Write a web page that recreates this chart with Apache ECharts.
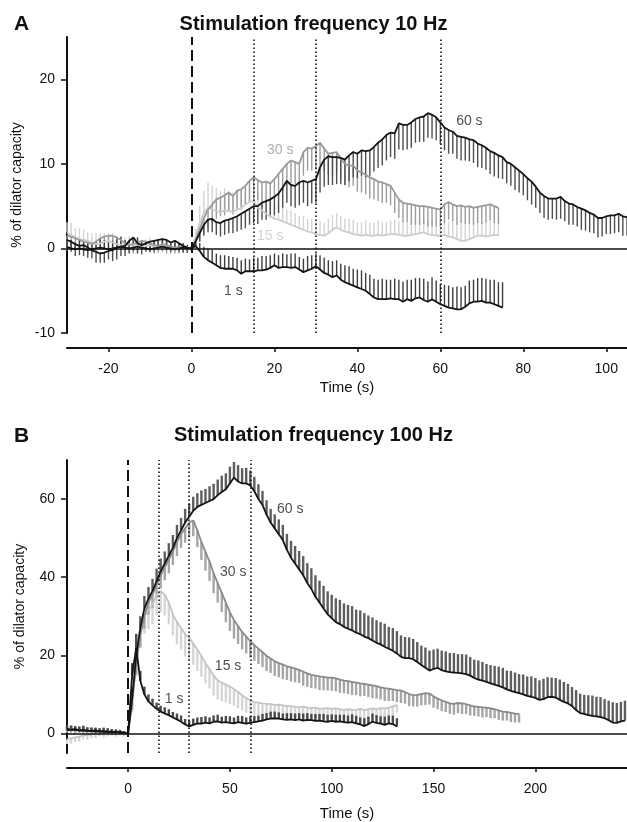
<!DOCTYPE html>
<html>
<head>
<meta charset="utf-8">
<script src="https://cdn.jsdelivr.net/npm/echarts@6/dist/echarts.min.js"></script>
<style>html,body{margin:0;padding:0;background:#fff}#c{width:627px;height:822px}</style>
</head>
<body>
<div id="c"></div>
<script>
// ---------- Panel A (10 Hz), sampled every 1 s from t = -30 ----------
var A_T0 = -30, A_STEP = 1;
var A60 = [1.0,0.8,0.5,0.3,0.4,0.1,-0.2,-0.4,-0.6,-0.5,-0.3,-0.2,0.1,0.2,0.3,0.9,1.3,0.6,0.4,0.6,0.8,0.9,1.0,1.1,1.0,0.7,0.9,0.6,0.3,0.1,
  0,
  0.8,1.8,2.8,3.4,3.5,3.1,3.0,3.3,3.4,3.6,
  3.8,4.1,4.4,4.7,5.0,5.0,5.4,5.6,5.8,6.1,
  6.5,7.2,8.0,7.5,7.4,7.8,8.0,7.8,8.0,8.2,
  9.6,10.5,10.9,10.8,10.8,10.7,10.5,11.0,11.4,11.2,
  11.6,11.5,11.6,12.0,12.5,12.9,13.4,13.7,13.6,14.8,
  14.6,14.6,14.9,15.3,15.5,15.6,16.0,15.8,15.5,14.9,
  14.3,14.0,13.8,13.3,13.2,13.1,12.9,12.8,12.4,12.2,
  11.9,11.5,11.3,11.0,10.8,10.2,10.0,9.6,9.2,8.8,
  8.3,7.9,7.3,6.6,6.2,5.9,5.9,5.9,6.1,5.6,
  5.3,5.2,4.9,4.7,4.5,4.2,4.0,3.6,3.6,3.8,
  3.9,3.9,4.1,3.8,3.7];
var A60_SEM = [1.3,1.2,1.4,1.1,1.3,1.2,1.0,1.3,1.1,1.2,1.0,1.3,1.4,1.1,1.2,1.5,1.6,1.2,1.1,1.0,1.2,1.3,1.1,1.0,1.2,1.1,0.9,1.0,0.8,0.6,0.3,
  0.6,1.0,1.3,1.5,1.6,1.5,1.6,1.7,1.6,1.8,
  1.8,1.9,2.0,1.9,2.0,2.1,2.0,2.2,2.1,2.2,
  2.3,2.4,2.6,2.5,2.6,2.7,2.6,2.8,2.7,2.8,
  3.0,3.2,3.4,3.3,3.2,3.1,3.0,3.1,3.0,2.9,
  3.0,3.1,3.0,2.9,3.0,3.1,3.0,2.9,3.0,3.1,
  3.0,2.9,3.0,2.8,2.9,3.0,2.9,2.8,2.7,2.6,
  2.7,2.8,2.6,2.7,2.8,2.7,2.6,2.7,2.8,2.7,
  2.6,2.7,2.8,2.7,2.6,2.5,2.6,2.7,2.6,2.5,
  2.6,2.7,2.5,2.4,2.6,2.5,2.4,2.5,2.6,2.4,
  2.5,2.4,2.3,2.5,2.4,2.3,2.2,2.3,2.2,2.1,
  2.2,2.1,2.2,2.3,2.2];
var A30 = [1.5,1.4,1.2,1.0,0.8,0.7,0.5,0.8,1.2,1.4,1.5,1.5,1.3,1.0,0.6,0.4,0.5,0.7,0.9,0.8,0.6,0.4,0.3,0.5,0.4,0.2,0.1,0.2,0.1,0.0,
  0,
  1.0,2.3,3.6,4.6,5.2,5.8,6.0,6.3,6.6,6.2,
  6.8,7.0,7.4,8.0,8.4,8.1,7.8,7.9,7.7,8.2,
  8.8,9.4,10.0,10.4,10.2,10.0,11.4,11.9,11.8,12.1,
  12.5,11.8,11.2,11.3,11.4,10.6,10.0,9.8,9.8,9.2,
  9.0,8.7,8.4,8.2,7.9,7.8,7.6,7.4,6.6,5.8,
  5.4,5.3,5.2,5.1,5.0,5.0,4.9,4.8,4.7,4.6,
  5.2,5.5,5.2,5.0,5.1,4.9,5.0,4.8,4.9,5.0,
  5.1,5.2,5.0,4.8];
var A30_SEM = [1.4,1.3,1.5,1.2,1.1,1.3,1.0,1.2,1.4,1.3,1.5,1.4,1.2,1.1,1.0,0.9,1.1,1.2,1.0,0.9,1.1,1.0,0.8,0.9,1.0,0.8,0.7,0.8,0.6,0.5,0.3,
  0.8,1.4,1.8,2.0,2.2,2.3,2.2,2.4,2.3,2.2,
  2.3,2.4,2.2,2.5,2.6,2.4,2.3,2.5,2.4,2.3,
  2.5,2.6,2.4,2.7,2.6,2.5,2.8,2.7,2.6,2.8,
  2.7,2.6,2.5,2.7,2.6,2.4,2.5,2.6,2.4,2.5,
  2.4,2.3,2.5,2.4,2.3,2.4,2.2,2.3,2.4,2.2,
  2.3,2.2,2.4,2.3,2.2,2.1,2.3,2.2,2.1,2.0,
  2.2,2.1,2.0,2.2,2.1,2.0,2.1,2.0,1.9,2.1,
  2.0,1.9,2.0,1.9];
var A15 = [1.9,1.6,1.3,1.1,1.0,0.9,0.7,0.5,0.6,0.8,0.9,0.7,0.5,0.4,0.4,0.5,0.3,0.4,0.2,0.3,0.4,0.2,0.1,0.3,0.2,0.1,0.0,0.1,0.2,0.1,
  0,
  1.3,3.0,4.2,4.8,4.6,4.4,4.3,4.5,4.4,4.3,
  4.6,4.8,5.2,5.5,5.6,4.8,4.5,4.1,3.8,3.5,
  3.4,3.2,3.0,2.8,2.6,2.4,2.2,2.0,1.9,1.7,
  1.6,1.5,1.8,2.2,2.5,2.2,2.0,1.9,1.7,1.6,
  1.5,1.6,1.5,1.5,1.6,1.5,1.6,1.7,1.7,1.6,
  1.5,1.5,1.6,1.7,1.8,1.9,1.7,1.6,1.5,1.5,
  1.6,1.4,1.3,1.1,0.9,0.9,1.1,1.3,1.5,1.5,
  1.4,1.5,1.6,1.5];
var A15_SEM = [1.2,1.4,1.1,1.3,1.2,1.0,1.1,1.3,1.2,1.0,0.9,1.1,1.0,0.8,0.9,1.0,0.8,0.9,0.7,0.8,0.9,0.7,0.6,0.8,0.7,0.6,0.5,0.6,0.5,0.4,0.3,
  1.0,2.0,2.6,3.0,2.8,2.7,2.5,2.6,2.4,2.3,
  2.4,2.2,2.3,2.1,2.0,1.9,2.0,1.8,1.9,1.8,
  1.7,1.8,1.6,1.7,1.6,1.5,1.6,1.5,1.6,1.5,
  1.6,1.5,1.7,1.8,1.7,1.6,1.5,1.6,1.7,1.5,
  1.6,1.7,1.5,1.6,1.7,1.6,1.5,1.6,1.7,1.6,
  1.7,1.6,1.5,1.7,1.8,1.7,1.6,1.7,1.8,1.6,
  1.7,1.8,1.9,2.0,2.1,2.0,1.9,1.8,1.7,1.8,
  1.9,1.8,1.7,1.8];
var A1 = [0.2,0.0,-0.1,0.0,-0.1,-0.2,-0.1,0.0,0.1,0.0,-0.1,0.0,0.1,0.2,0.1,0.0,0.1,0.2,0.1,0.0,-0.1,0.0,0.1,0.2,0.1,0.0,-0.1,0.0,0.1,0.0,
  0,
  0.3,-0.3,-1.0,-1.4,-1.7,-2.0,-2.3,-2.4,-2.4,-2.4,
  -2.6,-3.0,-2.7,-2.7,-2.7,-2.6,-2.6,-2.5,-2.3,-2.0,
  -2.3,-2.2,-2.2,-2.3,-2.2,-2.5,-2.8,-2.6,-2.4,-2.1,
  -2.5,-2.9,-3.1,-3.4,-3.2,-3.7,-4.0,-4.2,-4.4,-4.6,
  -4.8,-5.0,-5.4,-5.8,-6.0,-6.0,-6.0,-5.9,-6.0,-6.0,
  -6.3,-6.0,-6.2,-5.9,-5.8,-6.1,-6.3,-6.0,-6.3,-6.6,
  -6.8,-7.0,-7.1,-7.2,-7.2,-6.9,-6.5,-6.3,-6.3,-6.2,
  -6.4,-6.4,-6.6,-6.8,-7.0];
var A1_SEM = [0.9,1.0,0.8,1.1,0.9,1.0,0.8,0.9,1.1,1.0,0.8,0.9,1.0,1.2,0.9,0.8,1.0,1.1,0.9,0.8,0.7,0.9,1.0,0.8,0.7,0.6,0.8,0.6,0.5,0.4,0.3,
  0.5,0.9,1.2,1.4,1.5,1.4,1.5,1.6,1.5,1.4,
  1.5,1.6,1.5,1.4,1.6,1.5,1.7,1.6,1.5,1.4,
  1.5,1.6,1.5,1.7,1.6,1.5,1.6,1.7,1.6,1.5,
  1.7,1.8,1.7,1.9,1.8,1.9,2.0,2.1,2.0,2.1,
  2.2,2.1,2.3,2.2,2.3,2.4,2.3,2.2,2.4,2.3,
  2.4,2.3,2.5,2.4,2.3,2.5,2.4,2.6,2.5,2.4,
  2.5,2.6,2.5,2.7,2.6,2.5,2.7,2.6,2.8,2.7,
  2.8,2.7,2.9,2.8,3.0];

// ---------- Panel B (100 Hz), sampled every 2 s from t = -30 ----------
var B_T0 = -30, B_STEP = 2;
var B60 = [0.8,1.0,0.9,0.7,0.8,0.6,0.7,0.5,0.6,0.4,0.5,0.3,0.4,0.2,0.1,
  0,
  9,20,27,32,34.5,36.5,39,41.5,43.5,45.5,
  47.5,50,52,54,55.5,57,58,58.5,59,59.5,
  60,61,61.8,62.5,64,65.5,64.5,64,64,63.5,
  62,60,58.5,56,54,52.5,51,49.5,47,45,
  43.5,42,40.5,38.5,37,35,33.5,32,30.5,29.5,
  28.5,28,27.3,26.8,26.4,25.8,25.4,24.8,24.4,23.8,
  23.2,22.8,22.2,21.7,21.2,20.5,19.6,19.3,19.3,19,
  18.3,17.5,16.8,16.1,16.5,16.8,16.2,15.9,15.7,15.6,
  15.5,15.4,15.2,14.8,14.2,13.8,13.5,13.2,12.8,12.5,
  12.2,11.8,11.3,10.9,10.6,10.3,10,9.6,9.4,9.1,
  8.6,8.8,9.3,9.4,9.2,8.6,8.1,7.7,7.0,6.0,
  5.2,5.0,4.7,4.5,4.4,4.2,3.9,3.4,2.8,2.7,
  3.1,3.3];
var B60_SEM = [0.9,1.0,0.8,1.1,0.9,1.0,0.8,0.9,0.7,0.8,0.9,0.7,0.6,0.5,0.4,0.2,
  2.0,2.8,3.0,3.2,3.0,3.1,3.2,3.3,3.1,3.2,
  3.3,3.4,3.2,3.5,3.4,3.6,3.5,3.7,3.6,3.8,
  3.9,4.0,4.2,4.1,4.3,4.0,4.2,3.9,4.0,3.8,
  3.7,3.8,3.6,3.7,3.5,3.6,3.8,3.9,4.1,4.3,
  4.5,4.7,4.9,5.1,5.3,5.5,5.6,5.8,5.9,6.0,
  6.1,6.2,6.0,6.1,6.2,5.9,6.1,6.0,5.8,5.9,
  5.8,5.7,5.9,5.6,5.8,5.7,5.5,5.4,5.3,5.2,
  5.1,5.0,5.2,5.1,5.0,4.9,5.0,5.1,4.9,5.0,
  4.8,4.9,5.0,4.8,4.7,4.9,4.8,4.6,4.7,4.8,
  4.9,5.0,4.8,5.1,5.0,4.9,5.1,5.0,5.2,5.1,
  5.0,5.2,5.1,4.9,5.0,5.2,5.1,5.0,4.9,5.1,
  5.0,4.9,5.1,5.2,5.0,5.1,4.9,5.0,5.2,5.1,
  5.0,5.1];
var B30 = [1.0,1.2,0.8,0.9,0.6,0.7,0.5,0.6,0.4,0.5,0.3,0.4,0.2,0.3,0.1,
  0,
  8,18,25,30,33.5,35.5,38,40.5,42.5,44.5,
  46.5,49,51,52.5,54,54.5,52,49,46.5,44,
  41,38.5,36,33.5,31,29,27.5,26,24.8,23.6,
  22.6,21.7,20.8,19.9,19.2,18.5,18,17.6,17.2,16.9,
  16.6,16.3,15.8,15.4,15,14.8,14.6,14.5,14.3,14.3,
  14.1,13.8,13.5,13.4,13.2,13,12.8,12.7,12.5,12.3,
  12.1,11.8,11.6,11.5,11.3,11.1,11,10.6,10.1,9.8,
  9.9,10.1,10.3,10.2,9.5,8.9,8.5,8.1,7.7,7.6,
  7.8,7.7,7.5,7.2,6.9,6.8,6.7,6.6,6.4,6.2,
  5.9,5.6,5.5,5.3,5.1,5.0];
var B30_SEM = [0.8,1.0,0.9,0.7,0.8,0.9,0.7,0.6,0.8,0.7,0.6,0.5,0.6,0.4,0.3,0.2,
  2.0,2.8,3.0,3.2,3.1,3.3,3.2,3.4,3.3,3.5,
  3.4,3.6,3.5,3.7,3.8,4.0,4.3,4.6,4.8,5.0,
  5.1,5.0,4.9,5.0,4.8,4.7,4.6,4.5,4.3,4.2,
  4.0,3.9,3.8,3.9,3.7,3.8,3.6,3.7,3.5,3.6,
  3.5,3.4,3.6,3.5,3.4,3.3,3.5,3.4,3.3,3.4,
  3.3,3.4,3.2,3.3,3.4,3.2,3.3,3.1,3.2,3.3,
  3.2,3.1,3.3,3.2,3.0,3.1,3.2,3.0,3.1,2.9,
  3.0,2.9,3.0,2.8,2.9,2.7,2.8,2.6,2.7,2.8,
  2.6,2.7,2.5,2.6,2.4,2.5,2.6,2.4,2.5,2.3,
  2.4,2.3,2.2,2.4,2.3,2.2];
var B15 = [-1.5,-1.2,-1.0,-0.8,-0.5,-0.4,-0.2,-0.1,0.1,0.0,0.2,0.1,0.0,0.1,-0.2,
  0,
  8,18,26,30,31.5,33,35.5,36.5,35.5,33.5,
  30.5,28.5,27,25.5,24.5,23,21.5,19.8,18,16.5,
  14.8,13.6,13,12.5,12,11.4,10.6,9.8,9.0,8.5,
  8.0,7.9,7.7,7.6,7.5,7.3,7.4,7.2,7.0,7.0,
  6.8,6.7,6.9,6.6,6.5,6.6,6.3,6.4,6.5,6.3,
  6.4,6.2,6.0,6.2,6.1,6.0,6.3,6.0,6.2,6.4,
  6.2,6.5,6.4,6.6,6.9,7.3];
var B15_SEM = [1.2,1.4,1.1,1.3,1.0,1.2,0.9,1.1,0.8,1.0,0.9,0.7,0.8,0.6,0.5,0.3,
  2.5,3.5,4.0,4.5,4.8,5.0,5.2,5.5,5.3,5.6,
  5.4,5.7,5.5,5.8,5.6,5.4,5.5,5.3,5.2,5.0,
  5.1,4.9,4.8,4.6,4.5,4.3,4.1,3.9,3.7,3.5,
  3.3,3.2,3.0,3.1,2.9,3.0,2.8,2.9,2.7,2.8,
  2.7,2.6,2.8,2.7,2.6,2.5,2.7,2.6,2.5,2.6,
  2.5,2.4,2.6,2.5,2.4,2.5,2.3,2.4,2.5,2.3,
  2.4,2.2,2.3,2.1,2.2,2.0];
var B1 = [1.2,1.0,1.1,0.8,0.9,0.7,0.6,0.8,0.5,0.6,0.4,0.5,0.3,0.4,0.2,
  0,
  15,22,13.5,10,8.2,7.2,6.3,5.6,5.1,4.7,
  4.1,3.6,3.0,2.3,1.8,2.2,2.6,2.5,2.8,2.6,
  3.0,3.1,2.8,2.9,2.7,2.6,2.9,2.7,2.5,2.7,
  2.9,3.1,3.3,3.6,3.8,3.9,3.8,3.6,3.5,3.6,
  3.4,3.6,3.3,3.5,3.4,3.2,3.3,3.1,3.0,3.2,
  3.0,3.1,2.9,2.8,2.9,2.6,2.3,1.9,2.4,3.0,
  2.7,2.5,2.2,2.6,2.4,1.8];
var B1_SEM = [0.9,1.0,0.8,0.9,1.1,0.8,0.9,0.7,0.8,0.9,0.7,0.6,0.7,0.5,0.4,0.2,
  3.0,3.5,2.5,2.0,1.8,1.7,1.6,1.5,1.6,1.5,
  1.4,1.5,1.6,1.4,1.5,1.6,1.5,1.7,1.6,1.5,
  1.6,1.7,1.5,1.6,1.7,1.5,1.6,1.8,1.6,1.7,
  1.6,1.5,1.7,1.6,1.8,1.7,1.6,1.5,1.7,1.6,
  1.7,1.6,1.8,1.7,1.6,1.8,1.7,1.9,1.8,1.7,
  1.8,1.7,1.9,1.8,2.0,1.9,1.8,2.0,1.9,2.1,
  2.0,1.9,2.1,2.0,2.2,2.1];

// ---------- axes / annotations ----------
var A_XTICKS = [-20, 0, 20, 40, 60, 80, 100];
var A_YTICKS = [-10, 0, 10, 20];
var B_XTICKS = [0, 50, 100, 150, 200];
var B_YTICKS = [0, 20, 40, 60];
var STIM_MARKS = [15, 30, 60];
var A_LABELS = [{name: '60 s', value: [67, 15.1]}, {name: '30 s', value: [21.4, 11.6]}, {name: '15 s', value: [19, 1.5]}, {name: '1 s', value: [10.1, -5.1]}];
var B_LABELS = [{name: '60 s', value: [79.6, 57.5]}, {name: '30 s', value: [51.6, 41.3]}, {name: '15 s', value: [49.1, 17.2]}, {name: '1 s', value: [22.6, 8.9]}];

var FONT = "'Liberation Sans', Arial, Helvetica, sans-serif";
var INK = '#111';

function pts(t0, step, vals) { return vals.map(function (v, i) { return [t0 + i * step, v]; }); }
function errs(t0, step, vals, sem, dir) { return vals.map(function (v, i) { return [t0 + i * step, v, v + dir * sem[i]]; }); }

function lineSeries(g, data, color, w) {
  return { type: 'line', xAxisIndex: g, yAxisIndex: g, data: data, showSymbol: false, symbol: 'none',
    lineStyle: { color: color, width: w }, itemStyle: { color: color }, z: 4, animation: false, silent: true };
}
function barSeries(g, data, color, w) {
  return { type: 'custom', xAxisIndex: g, yAxisIndex: g, data: data, z: 2, animation: false, silent: true,
    encode: { x: 0, y: [1, 2] },
    renderItem: function (params, api) {
      var x = api.value(0);
      var p1 = api.coord([x, api.value(1)]);
      var p2 = api.coord([x, api.value(2)]);
      return { type: 'line', shape: { x1: p1[0], y1: p1[1], x2: p2[0], y2: p2[1] },
        style: { stroke: color, lineWidth: w } };
    } };
}
function markSeries(g) {
  var d = [{ yAxis: 0, lineStyle: { type: 'solid', width: 1.6, color: INK } },
           { xAxis: 0, lineStyle: { type: [11, 5], width: 2, color: INK } }];
  STIM_MARKS.forEach(function (m) { d.push({ xAxis: m, lineStyle: { type: [1.5, 2.5], width: 1.6, color: INK } }); });
  return { type: 'line', xAxisIndex: g, yAxisIndex: g, data: [], silent: true, animation: false,
    markLine: { symbol: 'none', silent: true, animation: false, label: { show: false }, data: d }, z: 1 };
}
function labelSeries(g, data, colors) {
  return { type: 'scatter', xAxisIndex: g, yAxisIndex: g, symbolSize: 0, silent: true, animation: false, z: 6,
    data: data.map(function (d, i) {
      return { name: d.name, value: d.value, label: { show: true, formatter: '{b}', position: 'inside',
        color: colors[i], fontSize: 14, fontFamily: FONT } };
    }) };
}
function xAxis(g, min, max, ticks, gap) {
  return { gridIndex: g, type: 'value', min: min, max: max, offset: 15,
    axisLine: { show: true, onZero: false, lineStyle: { color: INK, width: 2 } },
    axisTick: { show: true, length: 4, customValues: ticks, lineStyle: { color: INK, width: 1.5 } },
    axisLabel: { customValues: ticks, fontSize: 14, color: INK, margin: 14, fontFamily: FONT },
    splitLine: { show: false },
    name: 'Time (s)', nameLocation: 'middle', nameGap: gap,
    nameTextStyle: { fontSize: 15, color: INK, fontFamily: FONT } };
}
function yAxis(g, min, max, ticks) {
  return { gridIndex: g, type: 'value', min: min, max: max,
    axisLine: { show: true, onZero: false, lineStyle: { color: INK, width: 2 } },
    axisTick: { show: true, length: 6, customValues: ticks, lineStyle: { color: INK, width: 1.5 } },
    axisLabel: { customValues: ticks, fontSize: 14, color: INK, margin: 12, fontFamily: FONT },
    splitLine: { show: false },
    name: '% of dilator capacity', nameLocation: 'middle', nameGap: 40, nameRotate: 90,
    nameTextStyle: { fontSize: 14, color: INK, fontFamily: FONT } };
}

var chart = echarts.init(document.getElementById('c'), null, { renderer: 'canvas' });
var option = {
  backgroundColor: '#fff',
  animation: false,
  title: [
    { text: 'Stimulation frequency 10 Hz', left: 'center', top: 9, textStyle: { fontSize: 20, fontWeight: 'bold', color: INK, fontFamily: FONT } },
    { text: 'Stimulation frequency 100 Hz', left: 'center', top: 420, textStyle: { fontSize: 20, fontWeight: 'bold', color: INK, fontFamily: FONT } },
    { text: 'A', left: 9, top: 9, textStyle: { fontSize: 21, fontWeight: 'bold', color: INK, fontFamily: FONT } },
    { text: 'B', left: 9, top: 421, textStyle: { fontSize: 21, fontWeight: 'bold', color: INK, fontFamily: FONT } }
  ],
  grid: [
    { left: 67, top: 37, width: 560, height: 296 },
    { left: 67, top: 460, width: 560, height: 297 }
  ],
  xAxis: [xAxis(0, -30, 105, A_XTICKS, 32), xAxis(1, -30, 245, B_XTICKS, 38)],
  yAxis: [yAxis(0, -10, 25, A_YTICKS), yAxis(1, -5, 70, B_YTICKS)],
  series: [
    markSeries(0),
    barSeries(0, errs(A_T0, A_STEP, A15, A15_SEM, 1), '#d3d3d3', 1.4),
    barSeries(0, errs(A_T0, A_STEP, A30, A30_SEM, -1), '#9c9c9c', 1.4),
    barSeries(0, errs(A_T0, A_STEP, A1, A1_SEM, 1), '#3e3e3e', 1.4),
    barSeries(0, errs(A_T0, A_STEP, A60, A60_SEM, -1), '#4e4e4e', 1.4),
    lineSeries(0, pts(A_T0, A_STEP, A15), '#cdcdcd', 1.8),
    lineSeries(0, pts(A_T0, A_STEP, A30), '#9a9a9a', 1.8),
    lineSeries(0, pts(A_T0, A_STEP, A1), '#151515', 1.8),
    lineSeries(0, pts(A_T0, A_STEP, A60), '#151515', 1.8),
    labelSeries(0, A_LABELS, ['#222', '#999', '#c6c6c6', '#222']),

    markSeries(1),
    barSeries(1, errs(B_T0, B_STEP, B15, B15_SEM, -1), '#d6d6d6', 2.4),
    barSeries(1, errs(B_T0, B_STEP, B30, B30_SEM, -1), '#a6a6a6', 2.4),
    barSeries(1, errs(B_T0, B_STEP, B60, B60_SEM, 1), '#5e5e5e', 2.4),
    barSeries(1, errs(B_T0, B_STEP, B1, B1_SEM, 1), '#4a4a4a', 2.4),
    lineSeries(1, pts(B_T0, B_STEP, B15), '#c4c4c4', 1.8),
    lineSeries(1, pts(B_T0, B_STEP, B30), '#8a8a8a', 1.8),
    lineSeries(1, pts(B_T0, B_STEP, B60), '#151515', 1.8),
    lineSeries(1, pts(B_T0, B_STEP, B1), '#151515', 1.8),
    labelSeries(1, B_LABELS, ['#222', '#222', '#222', '#222'])
  ]
};
chart.setOption(option);
</script>
</body>
</html>
